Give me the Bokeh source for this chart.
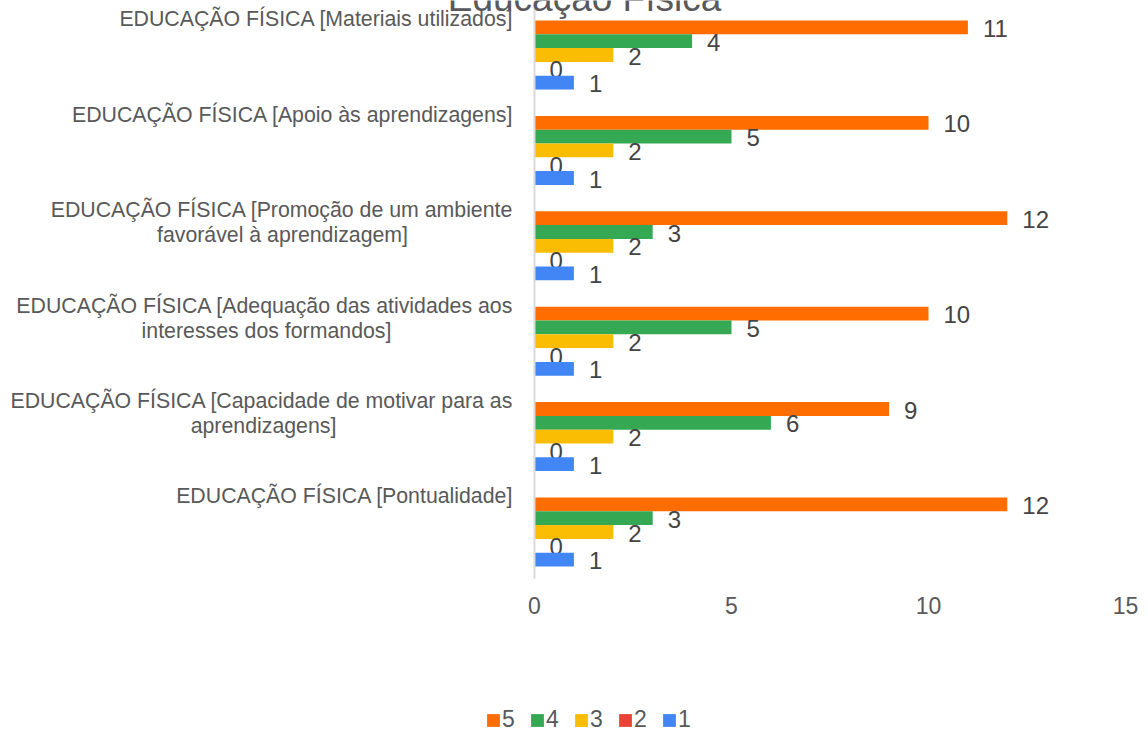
from bokeh.plotting import figure
from bokeh.models import ColumnDataSource, Range1d, FixedTicker, Label, Legend, LegendItem
from bokeh.transform import dodge
from bokeh.embed import file_html
from bokeh.resources import INLINE
from bokeh.core.properties import value

# ---------------- data ----------------
title = "Educação Física"
categories = [
    "EDUCAÇÃO FÍSICA [Materiais utilizados]",
    "EDUCAÇÃO FÍSICA [Apoio às aprendizagens]",
    "EDUCAÇÃO FÍSICA [Promoção de um ambiente\nfavorável à aprendizagem]",
    "EDUCAÇÃO FÍSICA [Adequação das atividades aos\ninteresses dos formandos]",
    "EDUCAÇÃO FÍSICA [Capacidade de motivar para as\naprendizagens]",
    "EDUCAÇÃO FÍSICA [Pontualidade]",
]
series_names = ["5", "4", "3", "2", "1"]
s5 = [11, 10, 12, 10, 9, 12]
s4 = [4, 5, 3, 5, 6, 3]
s3 = [2, 2, 2, 2, 2, 2]
s2 = [0, 0, 0, 0, 0, 0]
s1 = [1, 1, 1, 1, 1, 1]
x_ticks = [0, 5, 10, 15]

# ---------------- layout / style ----------------
colors = ["#FF6D01", "#34A853", "#FBBC04", "#EA4335", "#4285F4"]
FONT = "Liberation Sans"
W, H = 1140, 733
X0_PX = 534.0          # pixel of value 0
PX_X = 39.4            # pixels per unit along x
PX_Y = 95.4            # pixels per category
TOP_GROUP_PX = 54.5    # pixel of the centre of the top group
AXIS_BOTTOM_PX = 578.0

n = len(categories)
ypos = [n - k - 0.5 for k in range(n)]
y_top = ypos[0] + TOP_GROUP_PX / PX_Y
y_bot = y_top - H / PX_Y
y_axis_end = y_top - AXIS_BOTTOM_PX / PX_Y
x_lo = -X0_PX / PX_X
x_hi = (W - X0_PX) / PX_X
bar_h = 13.8 / PX_Y
line2_center_off = [None, None, 252, 268, 271, None]

series = [s5, s4, s3, s2, s1]
fields = ["s5", "s4", "s3", "s2", "s1"]
data = dict(y=ypos)
for f, s in zip(fields, series):
    data[f] = s
    data[f + "_lbl"] = [str(v) for v in s]
src = ColumnDataSource(data)

p = figure(width=W, height=H, output_backend="svg", toolbar_location=None,
           x_range=Range1d(x_lo, x_hi), y_range=Range1d(y_bot, y_top),
           min_border=0)
p.outline_line_color = None
p.xgrid.visible = False
p.ygrid.visible = False
p.background_fill_color = "white"
p.border_fill_color = "white"

xa = p.xaxis[0]
xa.fixed_location = y_axis_end
xa.ticker = FixedTicker(ticks=x_ticks)
xa.axis_line_color = None
xa.major_tick_line_color = None
xa.minor_tick_line_color = None
xa.major_tick_out = 0
xa.major_tick_in = 0
xa.major_label_standoff = 18
xa.major_label_text_font = FONT
xa.major_label_text_font_size = "23px"
xa.major_label_text_color = "#595959"

ya = p.yaxis[0]
ya.fixed_location = 0
ya.bounds = (y_axis_end, y_top)
ya.ticker = FixedTicker(ticks=[])
ya.axis_line_color = "#d9d9d9"
ya.axis_line_width = 2
ya.major_tick_line_color = None
ya.minor_tick_line_color = None
ya.major_label_text_font_size = "0px"

offsets = [2, 1, 0, -1, -2]
items = []
for f, name, col, off in zip(fields, series_names, colors, offsets):
    r = p.hbar(y=dodge("y", off * bar_h), left=0, right=f, height=bar_h,
               fill_color=col, line_color=None, source=src)
    p.text(x=f, y=dodge("y", off * bar_h), text=f + "_lbl", source=src,
           x_offset=15, y_offset=1, text_align="left", text_baseline="middle",
           text_font=value(FONT), text_font_size="24px", text_color="#444444")
    items.append(LegendItem(label=name, renderers=[r]))

legend = Legend(items=items, orientation="horizontal", location=(485, 0),
                glyph_width=16, glyph_height=16, label_standoff=1, spacing=14,
                padding=0, margin=0, border_line_color=None, background_fill_alpha=0,
                label_text_font=FONT, label_text_font_size="23px",
                label_text_color="#595959", label_width=13, label_height=13)
p.add_layout(legend)

# category labels
for k, cat in enumerate(categories):
    lines = cat.split("\n")
    p.add_layout(Label(x=0, y=ypos[k] + 0.373, x_offset=-21, text=lines[0],
                       text_align="right", text_baseline="alphabetic",
                       text_font=FONT, text_font_size="21.3px", text_color="#595959"))
    if len(lines) > 1:
        p.add_layout(Label(x=0, y=ypos[k] + 0.108, x_offset=-line2_center_off[k],
                           text=lines[1], text_align="center", text_baseline="alphabetic",
                           text_font=FONT, text_font_size="21.3px", text_color="#595959"))

# title (partly cut off at the top, as in the original)
p.add_layout(Label(x=0, y=y_top + 2 / PX_Y, x_offset=50, text=title,
                   text_align="center", text_baseline="alphabetic",
                   text_font=FONT, text_font_size="37px", text_color="#595959"))

open("out.html", "w").write(file_html(p, INLINE))
